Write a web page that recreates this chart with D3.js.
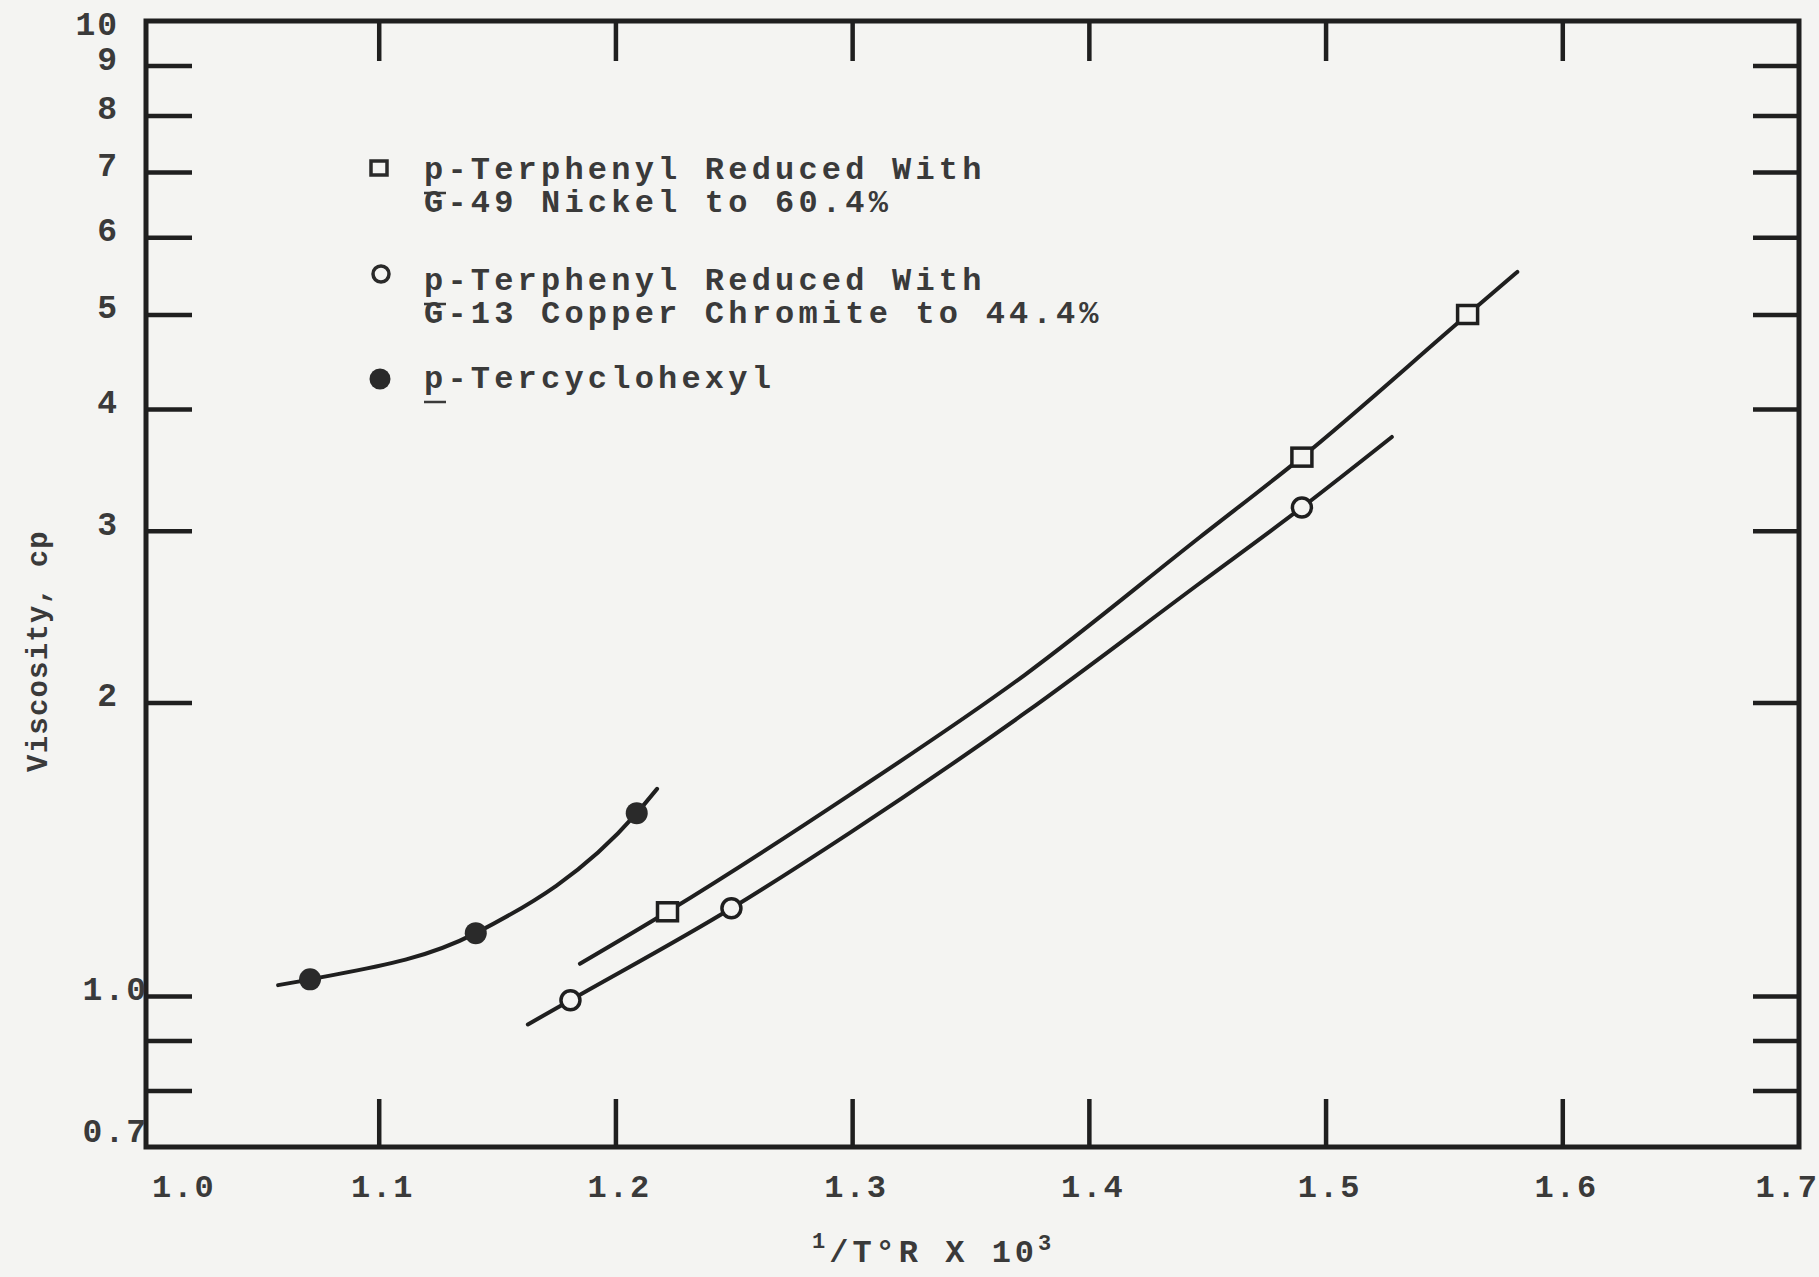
<!DOCTYPE html>
<html>
<head>
<meta charset="utf-8">
<script src="https://cdn.jsdelivr.net/npm/d3@7"></script>
<style>
  html, body { margin: 0; padding: 0; background: #f4f4f2; }
  svg { display: block; }
  text { font-family: "Liberation Mono", "DejaVu Sans Mono", monospace; font-weight: bold; fill: #3a3a3a; }
</style>
</head>
<body>
<svg id="chart" width="1819" height="1277"></svg>
<script>
// Measured points: 1/T (°R) × 10³ against viscosity in centipoise
const nickelX = [1.222, 1.490, 1.560];
const nickelY = [1.22, 3.57, 5.00];
const chromiteX = [1.181, 1.249, 1.490];
const chromiteY = [0.99, 1.23, 3.17];
const tercycloX = [1.071, 1.141, 1.209];
const tercycloY = [1.04, 1.16, 1.54];

// Faired curves drawn through each series
const nickelFitX = [1.185, 1.222, 1.299, 1.373, 1.447, 1.490, 1.560, 1.581];
const nickelFitY = [1.079, 1.22, 1.608, 2.135, 2.956, 3.57, 5.00, 5.529];
const chromiteFitX = [1.163, 1.181, 1.249, 1.299, 1.373, 1.447, 1.490, 1.528];
const chromiteFitY = [0.935, 0.99, 1.23, 1.47, 1.951, 2.652, 3.17, 3.744];
const tercycloFitX = [1.0575, 1.071, 1.141, 1.209, 1.2176];
const tercycloFitY = [1.026, 1.04, 1.16, 1.54, 1.631];

// Axis ticks and labels
const xTicks = [1.1, 1.2, 1.3, 1.4, 1.5, 1.6];
const xTickLabels = ["1.0", "1.1", "1.2", "1.3", "1.4", "1.5", "1.6", "1.7"];
const xLabelValues = [1.0, 1.1, 1.2, 1.3, 1.4, 1.5, 1.6, 1.7];
const yTicks = [0.8, 0.9, 1, 2, 3, 4, 5, 6, 7, 8, 9];
const yLabelValues = [0.7, 1, 2, 3, 4, 5, 6, 7, 8, 9, 10];
const yTickLabels = ["0.7", "1.0", "2", "3", "4", "5", "6", "7", "8", "9", "10"];

const legendLines = [
  ["p-Terphenyl Reduced With", "G-49 Nickel to 60.4%"],
  ["p-Terphenyl Reduced With", "G-13 Copper Chromite to 44.4%"],
  ["p-Tercyclohexyl"]
];

const ink = "#1f1f1f";
const paper = "#f4f4f2";

const svg = d3.select("#chart");
const plotL = 142, plotR = 1799, plotT = 21, plotB = 1147;
const frameL = 146;

const x = d3.scaleLinear().domain([1.0, 1.7]).range([plotL, plotR]);
const y = d3.scaleLog().domain([0.7, 10]).range([plotB, plotT]);

// Ticks on all four sides, pointing inward
function styleAxis(g) {
  g.select(".domain").remove();
  g.selectAll(".tick line").attr("stroke", ink).attr("stroke-width", 4.5);
  g.selectAll(".tick text").remove();
}
svg.append("g").attr("transform", `translate(0,${plotB})`)
  .call(d3.axisBottom(x).tickValues(xTicks).tickSize(-48).tickFormat(""))
  .call(styleAxis);
svg.append("g").attr("transform", `translate(0,${plotT})`)
  .call(d3.axisTop(x).tickValues(xTicks).tickSize(-40).tickFormat(""))
  .call(styleAxis);
svg.append("g").attr("transform", `translate(${frameL},0)`)
  .call(d3.axisLeft(y).tickValues(yTicks).tickSize(-46).tickFormat(""))
  .call(styleAxis);
svg.append("g").attr("transform", `translate(${plotR},0)`)
  .call(d3.axisRight(y).tickValues(yTicks).tickSize(-46).tickFormat(""))
  .call(styleAxis);

// Frame
svg.append("rect")
  .attr("x", frameL).attr("y", plotT)
  .attr("width", plotR - frameL).attr("height", plotB - plotT)
  .attr("fill", "none").attr("stroke", ink).attr("stroke-width", 5);

// X tick labels
const lastX = xLabelValues.length - 1;
svg.append("g").selectAll("text")
  .data(xLabelValues)
  .join("text")
  .attr("x", (d, i) => i === 0 ? x(d) + 10 : (i === lastX ? x(d) + 20 : x(d) + 4))
  .attr("y", plotB + 50)
  .attr("text-anchor", (d, i) => i === 0 ? "start" : (i === lastX ? "end" : "middle"))
  .attr("font-size", 32)
  .attr("letter-spacing", 2)
  .text((d, i) => xTickLabels[i]);

// Y tick labels
svg.append("g").selectAll("text")
  .data(yLabelValues)
  .join("text")
  .attr("x", d => (d === 1 || d === 0.7) ? frameL + 2 : frameL - 27)
  .attr("y", d => y(d) + (d === 0.7 ? -5 : (d === 10 ? 14 : 4)))
  .attr("text-anchor", "end")
  .attr("font-size", 33)
  .attr("letter-spacing", 2)
  .text((d, i) => yTickLabels[i]);

// Axis titles
const xt = svg.append("text")
  .attr("x", 812).attr("y", 1262)
  .attr("font-size", 32).attr("letter-spacing", 4)
  .attr("font-weight", "normal");
xt.append("tspan").attr("font-size", 22).attr("dy", -14).text("1");
xt.append("tspan").attr("dy", 14).text("/T°R X 10");
xt.append("tspan").attr("font-size", 22).attr("dy", -12).text("3");

svg.append("text")
  .attr("transform", "translate(47,651) rotate(-90)")
  .attr("text-anchor", "middle")
  .attr("font-size", 29).attr("letter-spacing", 1.2)
  .text("Viscosity, cp");

// Curves
const line = d3.line()
  .x(d => x(d[0])).y(d => y(d[1]))
  .curve(d3.curveMonotoneX);
const fits = [
  d3.zip(nickelFitX, nickelFitY),
  d3.zip(chromiteFitX, chromiteFitY),
  d3.zip(tercycloFitX, tercycloFitY)
];
svg.append("g").selectAll("path")
  .data(fits)
  .join("path")
  .attr("d", line)
  .attr("fill", "none").attr("stroke", ink)
  .attr("stroke-width", 4).attr("stroke-linecap", "round");

// Markers
svg.append("g").selectAll("rect")
  .data(d3.zip(nickelX, nickelY))
  .join("rect")
  .attr("x", d => x(d[0]) - 10).attr("y", d => y(d[1]) - 9)
  .attr("width", 20).attr("height", 18)
  .attr("fill", paper).attr("stroke", ink).attr("stroke-width", 3.5);
svg.append("g").selectAll("circle")
  .data(d3.zip(chromiteX, chromiteY))
  .join("circle")
  .attr("cx", d => x(d[0])).attr("cy", d => y(d[1])).attr("r", 9.5)
  .attr("fill", paper).attr("stroke", ink).attr("stroke-width", 3.5);
svg.append("g").selectAll("circle")
  .data(d3.zip(tercycloX, tercycloY))
  .join("circle")
  .attr("cx", d => x(d[0])).attr("cy", d => y(d[1])).attr("r", 11)
  .attr("fill", "#2a2a2a");

// Legend
const legend = svg.append("g");
legend.append("rect").attr("x", 371).attr("y", 161).attr("width", 16).attr("height", 14)
  .attr("fill", "none").attr("stroke", "#2a2a2a").attr("stroke-width", 3.5);
legend.append("circle").attr("cx", 381).attr("cy", 274).attr("r", 8)
  .attr("fill", "none").attr("stroke", "#2a2a2a").attr("stroke-width", 3.5);
legend.append("circle").attr("cx", 380).attr("cy", 379).attr("r", 10.5)
  .attr("fill", "#2a2a2a");

// Each entry is one text block; continuation lines sit 33px below
const entryBaselines = [179, 290, 388];
legendLines.forEach((lines, i) => {
  const t = legend.append("text")
    .attr("x", 424).attr("y", entryBaselines[i])
    .attr("font-size", 32).attr("letter-spacing", 4.2);
  lines.forEach((s, j) => {
    t.append("tspan")
      .attr("x", 424)
      .attr("dy", j === 0 ? 0 : 33)
      .text(s);
  });
  // underlined "p"
  legend.append("line")
    .attr("x1", 424).attr("x2", 446)
    .attr("y1", entryBaselines[i] + 14).attr("y2", entryBaselines[i] + 14)
    .attr("stroke", "#3a3a3a").attr("stroke-width", 2.5);
});
</script>
</body>
</html>
